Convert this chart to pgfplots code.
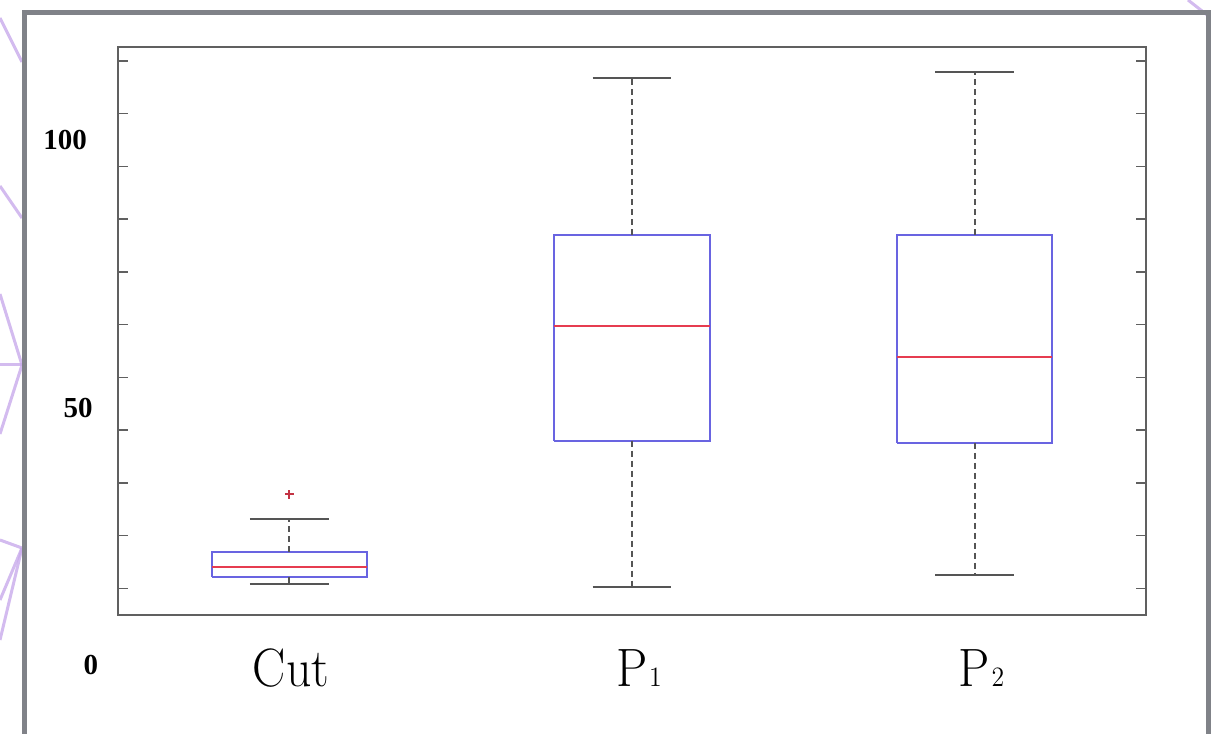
\documentclass[border=0pt]{standalone}
\usepackage{fontspec}
\usepackage{graphicx}
\usepackage{pgfplots}
\pgfplotsset{compat=1.18}
\newfontfamily\labfont{Liberation Serif}
\definecolor{boxblue}{RGB}{105,100,225}
\definecolor{medred}{RGB}{230,60,80}
\definecolor{whisk}{RGB}{85,85,85}
\definecolor{framegray}{RGB}{128,130,136}
\definecolor{lav}{RGB}{200,170,235}
\newcommand\xl[1]{\scalebox{0.92}[1]{\fontsize{27}{27}\selectfont #1}}
\newcommand\sub[1]{\kern1pt{\fontsize{14}{14}\selectfont #1}}
\begin{document}
\begin{tikzpicture}
\begin{scope}[x=0.5pt,y=0.5pt]
\path[use as bounding box] (0,0) rectangle (1211,734);
\begin{scope}[lav, line width=1.5pt, opacity=0.8]
\draw (0,716) -- (22,672);
\draw (0,548) -- (22,516);
\draw (0,440) -- (22,369);
\draw (0,369) -- (22,369);
\draw (0,300) -- (22,369);
\draw (0,194) -- (22,186);
\draw (0,134) -- (22,186);
\draw (0,94) -- (22,186);
\draw (1188,734) -- (1211,716);
\end{scope}
\draw[framegray, line width=2.5pt] (24.5,0) -- (24.5,721.5) -- (1208.5,721.5) -- (1208.5,0);
\end{scope}
\begin{axis}[
  at={(59pt,59.5pt)}, anchor=south west,
  width=514pt, height=284pt, scale only axis,
  xmin=0.5, xmax=3.5, ymin=-5.06, ymax=102.65,
  axis line style={draw=gray!75!black, line width=1pt},
  ytick={0,10,...,100}, yticklabels={},
  ytick pos=both, tick align=inside,
  major tick length=5pt,
  y tick style={draw=gray!75!black, line width=0.75pt},
  xtick={1,2,3}, xticklabels={},
  x tick style={draw=none},
  clip=false,
  boxs/.style={draw=boxblue, line width=1pt, mark=none},
  meds/.style={draw=medred, line width=1pt, mark=none},
  whs/.style={draw=whisk, line width=0.9pt, dash pattern=on 3pt off 2pt, mark=none},
  caps/.style={draw=whisk, line width=1pt, mark=none},
]
% ---- Cut ----
\addplot[boxs] coordinates {(0.7735,2.1) (1.2265,2.1) (1.2265,6.9) (0.7735,6.9) (0.7735,2.1)};
\addplot[meds] coordinates {(0.7735,4.1) (1.2265,4.1)};
\addplot[whs] coordinates {(1,6.9) (1,13.1)};
\addplot[whs] coordinates {(1,2.1) (1,0.8)};
\addplot[caps] coordinates {(0.885,13.1) (1.115,13.1)};
\addplot[caps] coordinates {(0.885,0.8) (1.115,0.8)};
\addplot[only marks, mark=+, mark size=2.2pt, mark options={draw=medred!85!black, line width=1pt}] coordinates {(1,17.8)};
% ---- P1 ----
\addplot[boxs] coordinates {(1.7735,28.0) (2.2265,28.0) (2.2265,67.0) (1.7735,67.0) (1.7735,28.0)};
\addplot[meds] coordinates {(1.7735,49.7) (2.2265,49.7)};
\addplot[whs] coordinates {(2,67.0) (2,96.8)};
\addplot[whs] coordinates {(2,28.0) (2,0.25)};
\addplot[caps] coordinates {(1.885,96.8) (2.115,96.8)};
\addplot[caps] coordinates {(1.885,0.25) (2.115,0.25)};
% ---- P2 ----
\addplot[boxs] coordinates {(2.7735,27.6) (3.2265,27.6) (3.2265,67.0) (2.7735,67.0) (2.7735,27.6)};
\addplot[meds] coordinates {(2.7735,43.9) (3.2265,43.9)};
\addplot[whs] coordinates {(3,67.0) (3,98.0)};
\addplot[whs] coordinates {(3,27.6) (3,2.5)};
\addplot[caps] coordinates {(2.885,98.0) (3.115,98.0)};
\addplot[caps] coordinates {(2.885,2.5) (3.115,2.5)};
% labels
\node[anchor=base] at (axis cs:1.005,-5.06) [yshift=-35.5pt] {\xl{Cut}};
\node[anchor=base] at (axis cs:2.02,-5.06) [yshift=-35.5pt] {\xl{P\sub{1}}};
\node[anchor=base] at (axis cs:3.02,-5.06) [yshift=-35.5pt] {\xl{P\sub{2}}};
\node[font=\labfont\bfseries\fontsize{14.5}{14.5}\selectfont] at (axis cs:0.346,85.0) {100};
\node[font=\labfont\bfseries\fontsize{14.5}{14.5}\selectfont] at (axis cs:0.384,34.2) {50};
\node[font=\labfont\bfseries\fontsize{14.5}{14.5}\selectfont] at (axis cs:0.421,-14.5) {0};
\end{axis}
\end{tikzpicture}
\end{document}
